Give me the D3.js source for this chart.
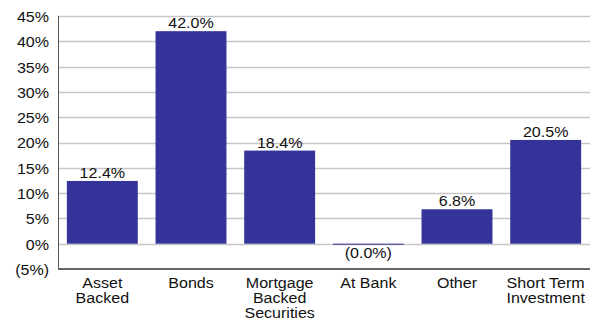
<!DOCTYPE html>
<html>
<head>
<meta charset="utf-8">
<script src="https://cdn.jsdelivr.net/npm/d3@7/dist/d3.min.js"></script>
<style>
  html, body { margin: 0; padding: 0; background: #fff; }
  svg text { font-family: "Liberation Sans", Arial, sans-serif; fill: #111; }
</style>
</head>
<body>
<svg id="chart" width="602" height="322"></svg>
<script>
// Portfolio allocation by asset type (percent)
const categories = ["Asset\nBacked", "Bonds", "Mortgage\nBacked\nSecurities", "At Bank", "Other", "Short Term\nInvestment"];
const values = [12.4, 42.0, 18.4, -0.04, 6.8, 20.5];
const tickValues = [-5, 0, 5, 10, 15, 20, 25, 30, 35, 40, 45];

const fmtPct = v => {
  const s = Math.abs(v).toFixed(1) + "%";
  return v < 0 ? "(" + s + ")" : s;
};
const fmtTick = v => v < 0 ? "(" + Math.abs(v) + "%)" : v + "%";

const svg = d3.select("#chart");
const plotLeft = 58, plotRight = 590, plotTop = 16, plotBottom = 269;
const stretch = 1.07;

const y = d3.scaleLinear().domain([-5, 45]).range([plotBottom, plotTop]);
const x = d3.scaleBand().domain(categories).range([plotLeft, plotRight])
  .paddingInner(0.2).paddingOuter(0.1);

// horizontal gridlines
svg.append("g").selectAll("line").data(tickValues.filter(t => t > -5)).join("line")
  .attr("x1", plotLeft).attr("x2", plotRight)
  .attr("y1", d => Math.round(y(d)) + 0.5).attr("y2", d => Math.round(y(d)) + 0.5)
  .attr("stroke", "#c6c6c6").attr("stroke-width", 1.3);

// y axis tick labels
const yAxis = d3.axisLeft(y).tickValues(tickValues).tickFormat(fmtTick).tickSize(0).tickPadding(0);
const gy = svg.append("g").attr("transform", `translate(${plotLeft - 9},0)`).call(yAxis);
gy.select(".domain").remove();
gy.selectAll("text")
  .attr("font-size", 15).attr("fill", "#111")
  .attr("font-family", "Liberation Sans, Arial, sans-serif")
  .attr("x", 0).attr("dy", "0.36em")
  .attr("transform", `scale(${stretch},1)`);

// bars
svg.append("g").selectAll("rect").data(values).join("rect")
  .attr("x", (d, i) => x(categories[i]))
  .attr("width", x.bandwidth())
  .attr("y", d => Math.min(y(d), y(0)))
  .attr("height", d => Math.max(1, Math.abs(y(d) - y(0))))
  .attr("fill", "#333399");

// axis lines
svg.append("line").attr("x1", plotLeft + 0.5).attr("x2", plotLeft + 0.5)
  .attr("y1", plotTop).attr("y2", plotBottom)
  .attr("stroke", "#555").attr("stroke-width", 1);
svg.append("line").attr("x1", plotLeft).attr("x2", plotRight)
  .attr("y1", plotBottom).attr("y2", plotBottom)
  .attr("stroke", "#666").attr("stroke-width", 2);

// value labels
svg.append("g").selectAll("text").data(values).join("text")
  .attr("text-anchor", "middle").attr("font-size", 15)
  .attr("transform", (d, i) => {
    const cx = x(categories[i]) + x.bandwidth() / 2;
    const ty = d >= 0 ? y(d) - 3 : y(0) + 14;
    return `translate(${cx},${ty}) scale(${stretch},1)`;
  })
  .text(d => fmtPct(d));

// category labels
const cat = svg.append("g").selectAll("text").data(categories).join("text")
  .attr("text-anchor", "middle").attr("font-size", 15)
  .attr("transform", d => `translate(${x(d) + x.bandwidth() / 2},${plotBottom + 19}) scale(${stretch},1)`);
cat.selectAll("tspan").data(d => d.split("\n")).join("tspan")
  .attr("x", 0).attr("dy", (d, i) => i === 0 ? 0 : 15)
  .text(d => d);
</script>
</body>
</html>
